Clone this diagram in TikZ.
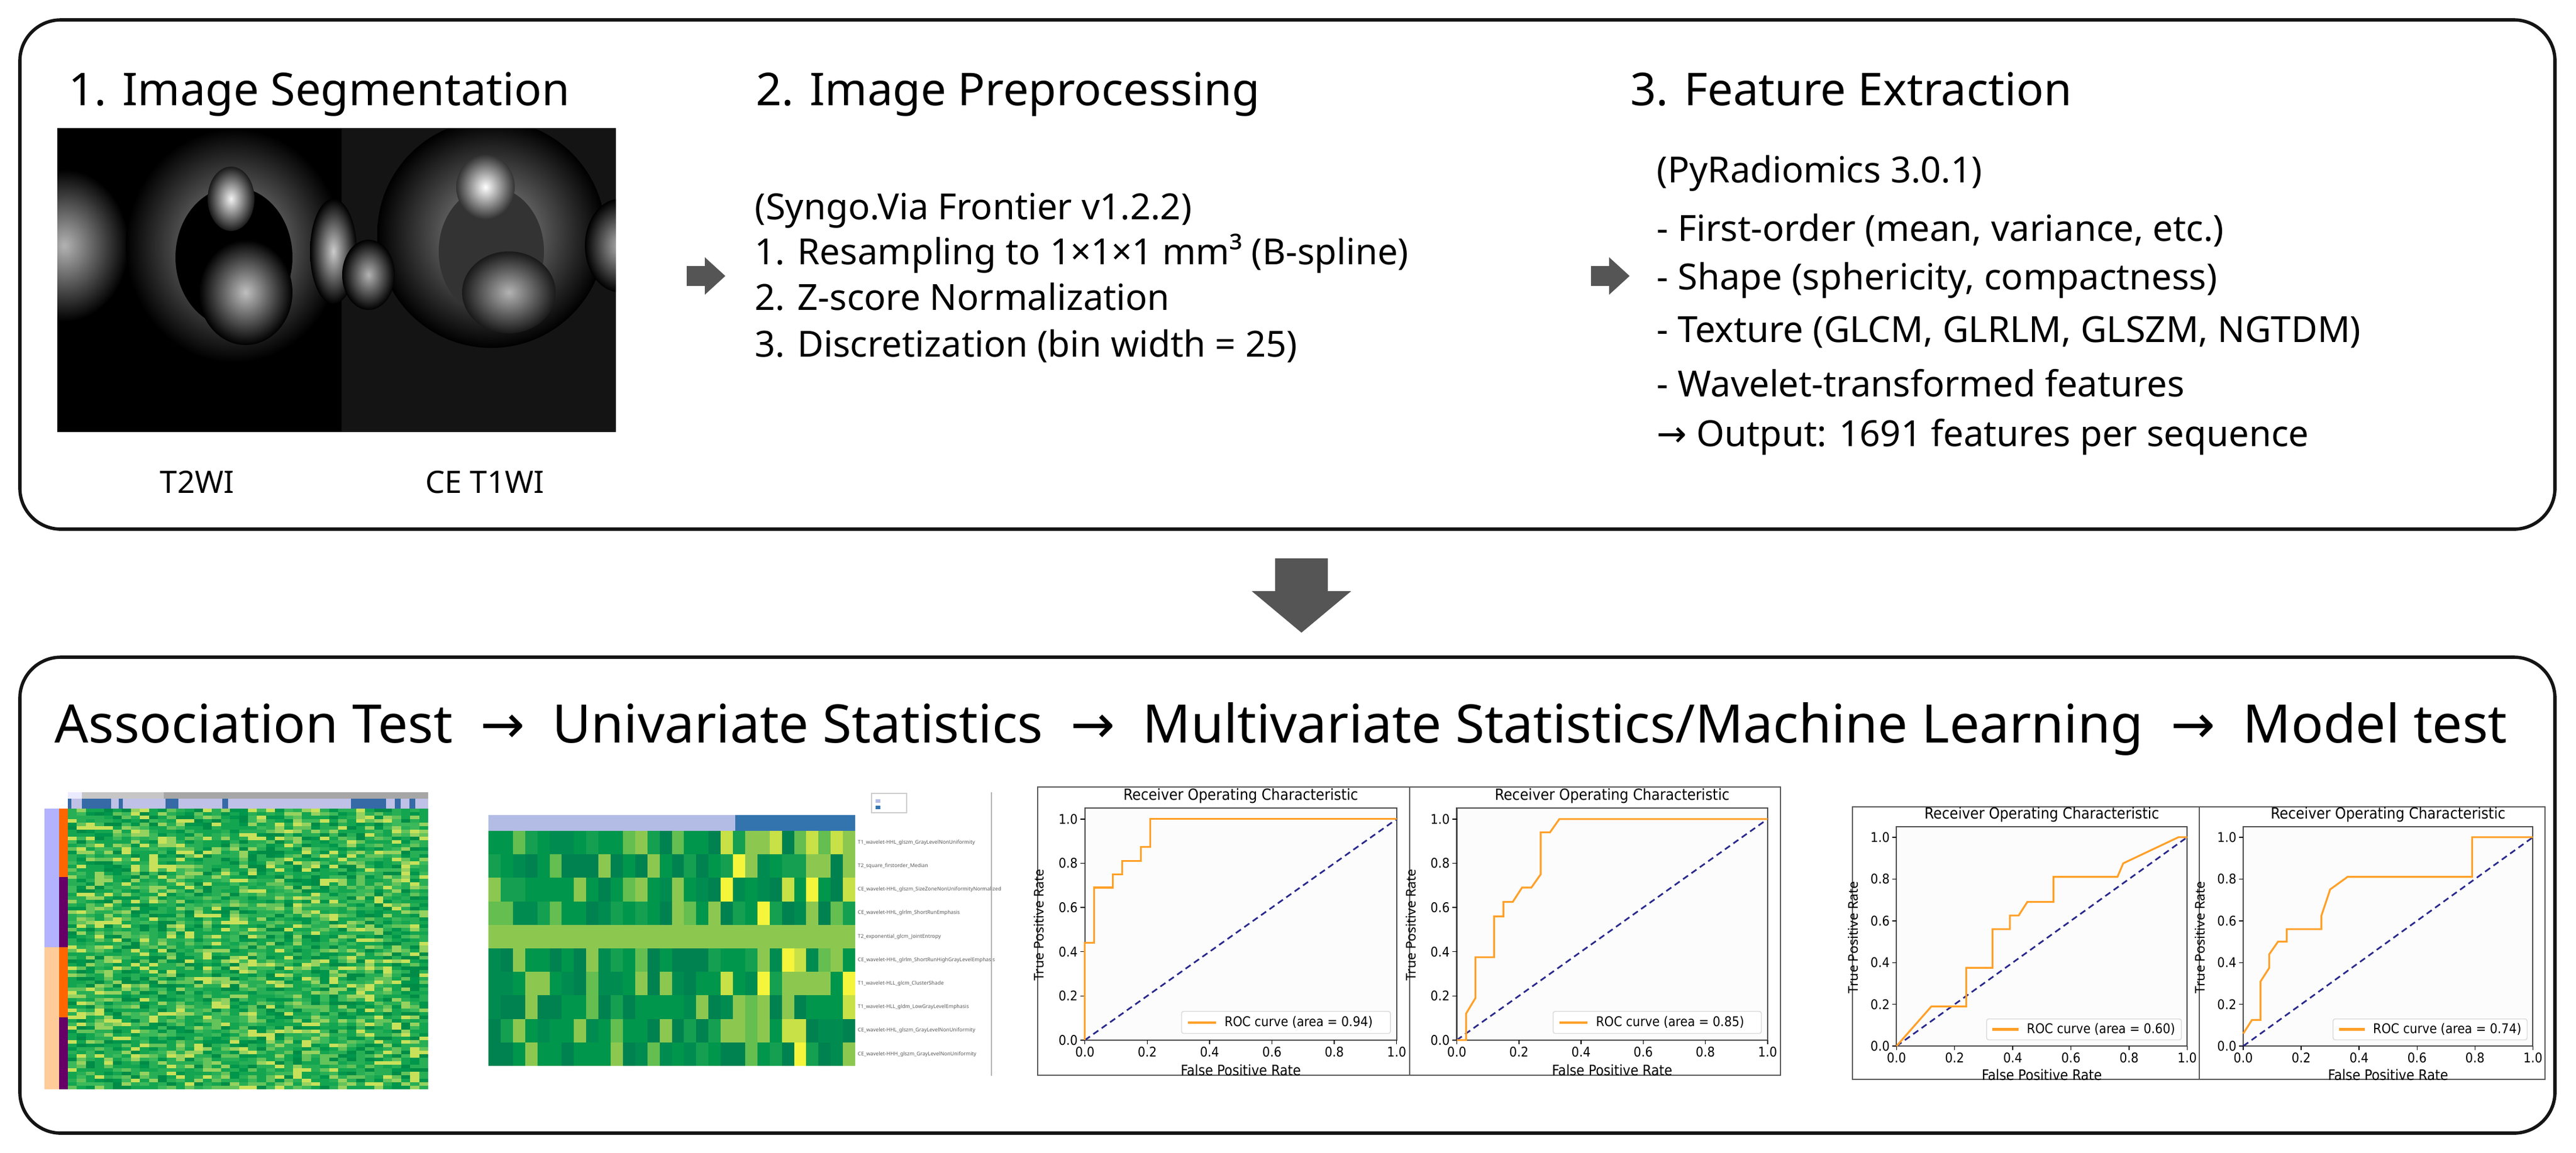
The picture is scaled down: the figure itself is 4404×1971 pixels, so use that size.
\documentclass[tikz,border=0pt]{standalone}
\usepackage{fontspec}
\setmainfont{Noto Sans}
\newfontfamily\plotfont{DejaVu Sans Condensed}
\newfontfamily\arrfont{DejaVu Sans}
\newcommand\rarr{{\arrfont →}}
\usetikzlibrary{calc}
\definecolor{boxc}{RGB}{20,20,20}
\definecolor{arrc}{RGB}{85,85,85}
\definecolor{rocor}{RGB}{255,160,40}
\definecolor{navyc}{RGB}{40,40,140}
\definecolor{plotbg}{RGB}{252,252,252}
% heatmap 1 colours
\definecolor{hm0}{RGB}{0,150,75}\definecolor{hm1}{RGB}{20,165,80}\definecolor{hm2}{RGB}{40,175,85}
\definecolor{hm3}{RGB}{20,165,80}\definecolor{hm4}{RGB}{60,185,90}\definecolor{hm5}{RGB}{0,140,70}
\definecolor{hm6}{RGB}{100,195,90}\definecolor{hm7}{RGB}{40,175,85}\definecolor{hm8}{RGB}{150,210,95}
\definecolor{hm9}{RGB}{200,225,90}
% heatmap 2 colours
\definecolor{hn0}{RGB}{0,130,80}\definecolor{hn1}{RGB}{0,150,75}\definecolor{hn2}{RGB}{0,130,80}
\definecolor{hn3}{RGB}{20,160,80}\definecolor{hn4}{RGB}{0,150,75}\definecolor{hn5}{RGB}{140,200,80}
\definecolor{hn6}{RGB}{0,140,80}\definecolor{hn7}{RGB}{100,190,80}\definecolor{hn8}{RGB}{200,225,70}
\definecolor{hn9}{RGB}{245,245,60}
\tikzset{
  stage/.style={draw=boxc,line width=1.6pt,rounded corners=0.7cm},
  title/.style={font=\fontsize{22}{26}\selectfont,anchor=base west,inner sep=0},
  body/.style={font=\fontsize{17.5}{21}\selectfont,anchor=base west,inner sep=0},
  lbl/.style={font=\fontsize{15}{18}\selectfont,anchor=base,inner sep=0},
  blockarrow/.style={fill=arrc,draw=none},
}
\newcommand\rocplot[6]{%
  \draw[gray!70!black,line width=0.5pt] (#1,#2) rectangle ++(#3,#4);
  \pgfmathsetmacro\ax{#1+0.127*#3}\pgfmathsetmacro\aw{0.838*#3}%
  \pgfmathsetmacro\ah{0.805*#4}\pgfmathsetmacro\ayb{#2+0.073*#4+\ah}%
  \pgfmathsetmacro\uy{\ah/1.05*0.01}\pgfmathsetmacro\ux{\aw*0.01}%
  \begin{scope}[shift={(\ax,\ayb)},x={(\ux cm,0)},y={(0,\uy cm)},font=\plotfont\fontsize{6.5}{7}\selectfont]
    \fill[plotbg] (0,0) rectangle (1,1.05);
    \draw[gray!60!black,line width=0.6pt] (0,0) rectangle (1,1.05);
    \foreach \v/\t in {0/0.0,0.2/0.2,0.4/0.4,0.6/0.6,0.8/0.8,1/1.0}{
      \draw[line width=0.4pt] (\v,0) -- ++(0,-0.02);
      \node[anchor=north,inner sep=1pt] at (\v,-0.02) {\t};
      \draw[line width=0.4pt] (0,\v) -- ++(-0.015,0);
      \node[anchor=east,inner sep=1pt] at (-0.015,\v) {\t};}
    \draw[navyc,dashed,line width=0.8pt,dash pattern=on 3pt off 2pt] (0,0) -- (1,1);
    \draw[rocor,line width=0.9pt] #6;
    \node[anchor=south,inner sep=2pt,font=\plotfont\fontsize{7.5}{8}\selectfont] at (0.5,1.05) {Receiver Operating Characteristic};
    \node[anchor=north,inner sep=0pt,font=\plotfont\fontsize{7}{8}\selectfont] at (0.5,-0.11) {False Positive Rate};
    \node[rotate=90,anchor=south,inner sep=0pt,font=\fontsize{6.5}{7}\selectfont] at (-0.13,0.52) {True Positive Rate};
    \draw[gray!30,fill=white,rounded corners=1pt] (0.31,0.03) rectangle (0.98,0.13);
    \draw[rocor,line width=1.2pt] (0.33,0.08) -- (0.42,0.08);
    \node[anchor=west,inner sep=1pt] at (0.44,0.08) {ROC curve (area = #5)};
  \end{scope}}
\begin{document}
\begin{tikzpicture}[x=0.01cm,y=-0.01cm]
\useasboundingbox (0,0) rectangle (4404,1971);
\fill[white] (0,0) rectangle (4404,1971);
% ---------- stage boxes
\draw[stage] (34,34) rectangle (4368,905);
\draw[stage] (34,1124) rectangle (4368,1938);
% ---------- MRI panels
\fill[black] (98,219) rectangle (584,739);
\fill[black!92] (584,219) rectangle (1053,739);
\begin{scope}
\clip (98,219) rectangle (1053,739);
\shade[inner color=gray!60,outer color=black] (110,420) ellipse (110 and 130);
\shade[inner color=gray!75,outer color=black] (400,420) ellipse (185 and 200);
\fill[black] (400,440) ellipse (100 and 120);
\shade[inner color=white!90!gray,outer color=gray!20!black] (395,340) ellipse (40 and 55);
\shade[inner color=gray!50,outer color=black] (420,500) ellipse (80 and 90);
\shade[inner color=gray!40,outer color=black] (570,430) ellipse (40 and 90);
\shade[inner color=gray!80,outer color=black] (840,400) ellipse (195 and 195);
\fill[gray!40!black] (840,430) ellipse (90 and 110);
\shade[inner color=white,outer color=gray!40!black] (830,320) ellipse (50 and 55);
\shade[inner color=gray!60,outer color=gray!20!black] (870,500) ellipse (80 and 70);
\shade[inner color=gray!60,outer color=black] (1060,420) ellipse (60 and 80);
\shade[inner color=gray!60,outer color=black] (630,470) ellipse (45 and 60);
\end{scope}
\node[lbl] (t2) at (337,843) {T2WI};
\node[lbl] (ce) at (829,843) {CE T1WI};
% ---------- titles
\node[title] (s1) at (117,180) {1. Image Segmentation};
\node[title] (s2) at (1292,180) {2. Image Preprocessing};
\node[title] (s3) at (2787,180) {3. Feature Extraction};
% ---------- step 2 text
\node[body] (p0) at (1290,375) {(Syngo.Via Frontier v1.2.2)};
\node[body] (p1) at (1290,452) {1. Resampling to 1×1×1 mm³ (B-spline)};
\node[body] (p2) at (1290,530) {2. Z-score Normalization};
\node[body] (p3) at (1290,610) {3. Discretization (bin width = 25)};
% ---------- step 3 text
\node[body] (q0) at (2832,312) {(PyRadiomics 3.0.1)};
\node[body] (q1) at (2832,412) {- First-order (mean, variance, etc.)};
\node[body] (q2) at (2832,495) {- Shape (sphericity, compactness)};
\node[body] (q3) at (2832,585) {- Texture (GLCM, GLRLM, GLSZM, NGTDM)};
\node[body] (q4) at (2832,678) {- Wavelet-transformed features};
\node[body] (q5) at (2832,763) {\rarr\ Output: 1691 features per sequence};
% ---------- block arrows
\fill[blockarrow] (1174,455) -- (1205,455) -- (1205,440) -- (1240,472) -- (1205,504) -- (1205,489) -- (1174,489) -- cycle;
\fill[blockarrow] (2720,455) -- (2751,455) -- (2751,440) -- (2786,472) -- (2751,504) -- (2751,489) -- (2720,489) -- cycle;
\fill[blockarrow] (2180,955) -- (2270,955) -- (2270,1011) -- (2310,1011) -- (2225,1082) -- (2140,1011) -- (2180,1011) -- cycle;
% ---------- bottom title line
\node[anchor=base west,inner sep=0] (flow) at (93,1270) {\resizebox{41.9cm}{!}{\fontsize{22}{26}\selectfont Association Test \ \rarr\ \ Univariate Statistics \ \rarr\ \ Multivariate Statistics/Machine Learning \ \rarr\ \ Model test}};
% ---------- heatmap 1
\pgfmathsetseed{7}
\fill[gray!70] (116,1355) rectangle (732,1366);
\fill[gray!45] (140,1355) rectangle (280,1366);
\fill[blue!8] (116,1355) rectangle (140,1366);
\fill[cyan!25!blue!25] (116,1366) rectangle (732,1383);
\foreach \a/\b in {116/122,140/190,203/210,283/305,380/390,600/660,675/685,700/710}{\fill[cyan!50!blue!80!black] (\a,1366) rectangle (\b,1383);}
\fill[blue!30] (76,1383) rectangle (101,1620);
\fill[orange!40] (76,1620) rectangle (101,1863);
\fill[orange!80!red] (101,1383) rectangle (116,1500);
\fill[violet!80!black] (101,1500) rectangle (116,1620);
\fill[orange!80!red] (101,1620) rectangle (116,1740);
\fill[violet!80!black] (101,1740) rectangle (116,1863);
\foreach \i in {0,...,39}{
  \foreach \j in {0,...,79}{
    \pgfmathrandominteger{\c}{0}{9}
    \fill[hm\c] ({116+\i*15.4},{1383+\j*6}) rectangle ++(15.6,6.2);
  }}
% ---------- heatmap 2
\fill[cyan!35!blue!30] (835,1394) rectangle (1257,1421);
\fill[cyan!60!blue!80!black] (1257,1394) rectangle (1462,1421);
\foreach \i in {0,...,29}{
  \foreach \j in {0,...,9}{
    \ifnum\i<19 \pgfmathrandominteger{\c}{0}{7}\else\pgfmathrandominteger{\c}{0}{9}\fi
    \fill[hn\c] ({835+\i*20.9},{1421+\j*40.2}) rectangle ++(21.1,40.4);
  }}
\fill[hn5] (835,1582) rectangle (1462,1622);
\foreach \j/\s in {0/T1\_wavelet-HHL\_glszm\_GrayLevelNonUniformity,1/T2\_square\_firstorder\_Median,2/CE\_wavelet-HHL\_glszm\_SizeZoneNonUniformityNormalized,3/CE\_wavelet-HHL\_glrlm\_ShortRunEmphasis,4/T2\_exponential\_glcm\_JointEntropy,5/CE\_wavelet-HHL\_glrlm\_ShortRunHighGrayLevelEmphasis,6/T1\_wavelet-HLL\_glcm\_ClusterShade,7/T1\_wavelet-HLL\_gldm\_LowGrayLevelEmphasis,8/CE\_wavelet-HHL\_glszm\_GrayLevelNonUniformity,9/CE\_wavelet-HHH\_glszm\_GrayLevelNonUniformity}{
  \node[anchor=west,inner sep=0,font=\fontsize{2.5}{3}\selectfont,text=gray!70!black] at (1466,{1441+\j*40.2}) {\s};}
\draw[gray!40] (1490,1357) rectangle (1550,1390);
\fill[cyan!35!blue!30] (1497,1367) rectangle (1505,1373);
\fill[cyan!60!blue!80!black] (1497,1378) rectangle (1505,1384);
\draw[gray!60,line width=0.4pt] (1695,1355) -- (1695,1840);
% ---------- ROC plots
\rocplot{1774}{1346}{636}{493}{0.94}{(0,0) -- (0,0.44) -- (0.03,0.44) -- (0.03,0.69) -- (0.09,0.69) -- (0.09,0.75) -- (0.12,0.75) -- (0.12,0.81) -- (0.18,0.81) -- (0.18,0.875) -- (0.21,0.875) -- (0.21,1) -- (1,1)}
\rocplot{2410}{1346}{634}{493}{0.85}{(0,0) -- (0.03,0) -- (0.03,0.12) -- (0.06,0.19) -- (0.06,0.375) -- (0.12,0.375) -- (0.12,0.56) -- (0.15,0.56) -- (0.15,0.625) -- (0.18,0.625) -- (0.21,0.69) -- (0.24,0.69) -- (0.27,0.75) -- (0.27,0.94) -- (0.30,0.94) -- (0.33,1) -- (1,1)}
\rocplot{3167}{1380}{593}{466}{0.60}{(0,0) -- (0.12,0.19) -- (0.24,0.19) -- (0.24,0.375) -- (0.33,0.375) -- (0.33,0.56) -- (0.39,0.56) -- (0.39,0.625) -- (0.42,0.625) -- (0.45,0.69) -- (0.54,0.69) -- (0.54,0.81) -- (0.76,0.81) -- (0.78,0.875) -- (0.97,1) -- (1,1)}
\rocplot{3760}{1380}{591}{466}{0.74}{(0,0.06) -- (0.03,0.125) -- (0.06,0.125) -- (0.06,0.31) -- (0.09,0.375) -- (0.09,0.44) -- (0.12,0.5) -- (0.15,0.5) -- (0.15,0.56) -- (0.27,0.56) -- (0.27,0.625) -- (0.30,0.75) -- (0.36,0.81) -- (0.79,0.81) -- (0.79,1) -- (1,1)}
\end{tikzpicture}
\end{document}
